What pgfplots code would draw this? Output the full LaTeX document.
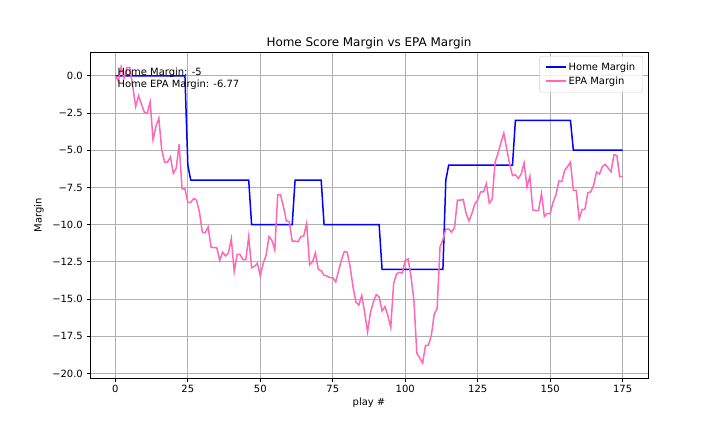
\documentclass[border=0pt]{standalone}
\usepackage{pgfplots}
\pgfplotsset{compat=1.18}
\usepackage{pgfplotstable}
\usepackage{fontspec}
\setmainfont{DejaVu Sans}
\definecolor{hotpink}{RGB}{255,105,180}
\definecolor{homeblue}{RGB}{0,0,255}
\definecolor{gridgray}{RGB}{176,176,176}
\definecolor{legframe}{RGB}{204,204,204}

\pgfplotstableread{
x y
0 0
24 0
25 -6
26 -7
46 -7
47 -10
61 -10
62 -7
71 -7
72 -10
91 -10
92 -13
113 -13
114 -7
115 -6
137 -6
138 -3
157 -3
158 -5
175 -5
}\homemargin

\pgfplotstableread{
x y
0 0.0
1 -0.35
2 0.6
3 -0.15
4 0.55
5 0.55
6 -0.7
7 -2.07
8 -1.35
9 -1.9
10 -2.45
11 -2.5
12 -1.75
13 -4.3
14 -3.4
15 -2.85
16 -5.0
17 -5.8
18 -5.8
19 -5.45
20 -6.55
21 -6.2
22 -4.6
23 -7.6
24 -7.6
25 -8.5
26 -8.5
27 -8.25
28 -8.35
29 -9.15
30 -10.5
31 -10.55
32 -10.15
33 -11.5
34 -11.55
35 -11.55
36 -12.4
37 -11.85
38 -12.1
39 -11.9
40 -10.95
41 -13.15
42 -12.0
43 -12.0
44 -12.35
45 -12.35
46 -10.8
47 -12.9
48 -12.8
49 -12.6
50 -13.45
51 -12.6
52 -12.05
53 -10.8
54 -11.05
55 -11.7
56 -8.0
57 -8.0
58 -8.8
59 -9.75
60 -9.8
61 -11.1
62 -11.1
63 -11.15
64 -10.8
65 -10.75
66 -9.9
67 -12.7
68 -12.5
69 -11.9
70 -13.0
71 -13.1
72 -13.4
73 -13.45
74 -13.55
75 -13.55
76 -13.85
77 -13.1
78 -12.35
79 -11.8
80 -11.85
81 -12.85
82 -14.2
83 -15.2
84 -15.4
85 -14.75
86 -15.9
87 -17.2
88 -15.9
89 -15.2
90 -14.7
91 -14.85
92 -15.8
93 -15.5
94 -16.1
95 -16.9
96 -13.95
97 -13.3
98 -13.2
99 -13.25
100 -12.4
101 -12.3
102 -13.5
103 -15.1
104 -18.65
105 -18.95
106 -19.3
107 -18.1
108 -18.1
109 -17.45
110 -16.0
111 -15.65
112 -11.5
113 -11.0
114 -10.3
115 -10.3
116 -10.5
117 -10.2
118 -8.35
119 -8.35
120 -8.3
121 -9.25
122 -9.75
123 -9.25
124 -8.6
125 -8.35
126 -7.8
127 -7.8
128 -7.25
129 -8.55
130 -8.3
131 -5.8
132 -5.2
133 -4.5
134 -3.85
135 -4.9
136 -5.9
137 -6.7
138 -6.65
139 -6.9
140 -6.6
141 -5.85
142 -7.45
143 -6.75
144 -9.0
145 -9.05
146 -9.05
147 -7.9
148 -9.45
149 -9.25
150 -9.25
151 -8.5
152 -8.0
153 -7.07
154 -7.1
155 -6.35
156 -6.1
157 -5.8
158 -7.7
159 -7.7
160 -9.6
161 -9.0
162 -8.95
163 -7.85
164 -7.8
165 -7.35
166 -6.45
167 -6.6
168 -6.1
169 -5.95
170 -6.2
171 -6.45
172 -5.3
173 -5.35
174 -6.78
175 -6.77
}\epamargin

\begin{document}
\begin{tikzpicture}
\useasboundingbox (0,0) rectangle (720bp,432bp);
\begin{axis}[
  name=ax,
  at={(90bp,54bp)}, anchor=south west,
  scale only axis, width=558bp, height=326bp,
  xmin=-8.75, xmax=183.75, ymin=-20.3, ymax=1.6,
  font=\fontsize{10}{12}\selectfont,
  xtick={0,25,50,75,100,125,150,175},
  xticklabels={0,25,50,75,100,125,150,175},
  ytick={-20,-17.5,-15,-12.5,-10,-7.5,-5,-2.5,0},
  yticklabels={−20.0,−17.5,−15.0,−12.5,−10.0,−7.5,−5.0,−2.5,0.0},
  xtick pos=lower, ytick pos=left,
  tick align=outside, major tick length=3.5bp,
  every tick/.style={black, line width=0.8bp},
  axis line style={black, line width=0.8bp},
  grid=major, major grid style={gridgray, line width=0.8bp},
  xticklabel style={inner sep=0pt, yshift=-3.5bp},
  yticklabel style={inner sep=0pt, xshift=-3.5bp},
  title={Home Score Margin vs EPA Margin},
  title style={font=\fontsize{12}{14}\selectfont, at={(0.5,1)}, anchor=base, yshift=0bp, inner sep=0pt},
  xlabel={play \#},
  xlabel style={at={(0.5,0)}, anchor=base, yshift=-28bp, inner sep=0pt},
  legend cell align=left,
  legend style={at={(0.991,0.988)}, anchor=north east, draw=legframe, rounded corners=2bp,
    fill=white, fill opacity=0.8, text opacity=1, font=\fontsize{10}{12}\selectfont,
    inner xsep=5.5bp, inner ysep=4.5bp, row sep=1bp},
  legend image code/.code={\draw[#1] (0bp,0bp) -- (20bp,0bp);},
]
\addplot[draw=homeblue, line width=1.5bp, no marks] table[x=x,y=y] {\homemargin};
\addlegendentry{Home Margin}
\addplot[draw=hotpink, line width=1.5bp, no marks] table[x=x,y=y] {\epamargin};
\addlegendentry{EPA Margin}
\node[anchor=north west, inner sep=0pt, align=left, font=\fontsize{10}{11.7}\selectfont] at (axis cs:0.7,0.54) {Home Margin: -5\\Home EPA Margin: -6.77};
\end{axis}
\node[rotate=90, anchor=south, inner sep=0pt, font=\fontsize{10}{12}\selectfont] at ([xshift=-46bp]ax.west) {Margin};
\end{tikzpicture}
\end{document}
